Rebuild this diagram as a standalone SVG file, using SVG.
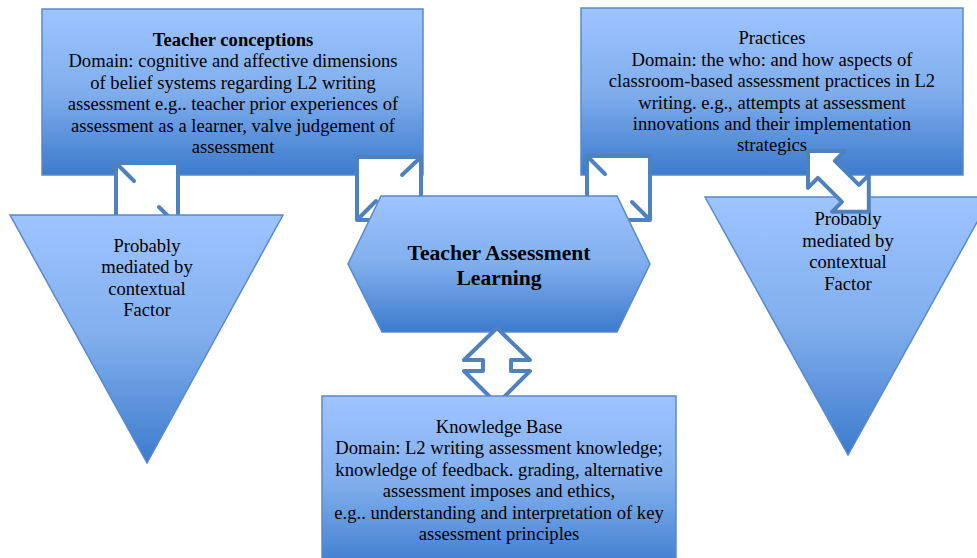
<svg xmlns="http://www.w3.org/2000/svg" width="977" height="558" viewBox="0 0 977 558">
  <defs>
    <linearGradient id="blueFill" x1="0" y1="0" x2="0" y2="1">
      <stop offset="0" stop-color="#9ec4ff"/>
      <stop offset="0.5" stop-color="#80aeed"/>
      <stop offset="1" stop-color="#3c7bcd"/>
    </linearGradient>
  </defs>
  <style>
    .shape { fill: url(#blueFill); stroke: #5a89c8; stroke-width: 1.5; }
    .link { fill: #ffffff; stroke: #4f81bd; stroke-width: 4; stroke-linejoin: round; stroke-linecap: round; }
    .stub { fill: none; stroke: #4f81bd; stroke-width: 4; stroke-linecap: round; }
    text { font-family: "Liberation Serif", "Times New Roman", serif; fill: #000; text-anchor: middle; }
    .body { font-size: 18.6px; }
    .bold { font-weight: bold; }
    .title { font-size: 21.6px; font-weight: bold; }
  </style>

  <rect width="977" height="558" fill="#ffffff"/>

  <!-- Teacher conceptions box -->
  <g id="teacher-conceptions">
    <rect class="shape" x="42" y="9" width="381" height="166"/>
    <text class="body" x="233" y="46"><tspan class="bold">Teacher conceptions</tspan></text>
    <text class="body" x="233" y="67">Domain: cognitive and affective dimensions</text>
    <text class="body" x="233" y="89">of belief systems regarding L2 writing</text>
    <text class="body" x="233" y="110">assessment e.g.. teacher prior experiences of</text>
    <text class="body" x="233" y="132">assessment as a learner, valve judgement of</text>
    <text class="body" x="233" y="153">assessment</text>
  </g>

  <!-- Practices box -->
  <g id="practices">
    <rect class="shape" x="581" y="8" width="382" height="167"/>
    <text class="body" x="772" y="44">Practices</text>
    <text class="body" x="772" y="66">Domain: the who: and how aspects of</text>
    <text class="body" x="772" y="87">classroom-based assessment practices in L2</text>
    <text class="body" x="772" y="109">writing. e.g., attempts at assessment</text>
    <text class="body" x="772" y="130">innovations and their implementation</text>
    <text class="body" x="772" y="151">strategics</text>
  </g>

  <!-- Connectors partly hidden behind the lower shapes -->
  <g id="connectors-back">
    <g id="link-conceptions-left">
      <rect class="link" x="116" y="163" width="62" height="63"/>
      <path class="stub" d="M117,164 l17,17 M177,225 l-18,-18"/>
    </g>
    <g id="link-conceptions-center">
      <rect class="link" x="357" y="157" width="64" height="63"/>
      <path class="stub" d="M420,158 l-18,17 M358,219 l18,-18"/>
    </g>
    <g id="link-practices-center">
      <rect class="link" x="587" y="156" width="63" height="64"/>
      <path class="stub" d="M588,157 l17,17 M649,219 l-17,-17"/>
    </g>
  </g>

  <!-- Left contextual factor triangle -->
  <g id="context-left">
    <polygon class="shape" points="10,215 283,215 147,463"/>
    <text class="body" x="147" y="252">Probably</text>
    <text class="body" x="147" y="273">mediated by</text>
    <text class="body" x="147" y="295">contextual</text>
    <text class="body" x="147" y="316">Factor</text>
  </g>

  <!-- Central hexagon -->
  <g id="teacher-assessment-learning">
    <polygon class="shape" points="381,196 617,196 650,264 617,332 382,332 348,264"/>
    <text class="title" x="499" y="260">Teacher Assessment</text>
    <text class="title" x="499" y="285">Learning</text>
  </g>

  <!-- Right contextual factor triangle -->
  <g id="context-right">
    <polygon class="shape" points="705,197 991,197 848,455"/>
    <text class="body" x="848" y="225">Probably</text>
    <text class="body" x="848" y="247">mediated by</text>
    <text class="body" x="848" y="268">contextual</text>
    <text class="body" x="848" y="290">Factor</text>
  </g>

  <!-- Connectors drawn over the shapes -->
  <g id="connectors-front">
    <path id="link-practices-right" class="link" transform="translate(808,151) rotate(45)"
          d="M0,0 L26,-26 V-12 H60 V-26 L86,0 L60,26 V12 H26 V26 Z"/>
    <path id="link-learning-knowledge" class="link"
          d="M497,328 L464,360 H483 V371 H464 L497,404 L530,371 H511 V360 H530 Z"/>
  </g>

  <!-- Knowledge base box -->
  <g id="knowledge-base">
    <rect class="shape" x="322" y="396" width="354" height="175"/>
    <text class="body" x="499" y="433">Knowledge Base</text>
    <text class="body" x="499" y="454">Domain: L2 writing assessment knowledge;</text>
    <text class="body" x="499" y="476">knowledge of feedback. grading, alternative</text>
    <text class="body" x="499" y="497">assessment imposes and ethics,</text>
    <text class="body" x="499" y="519">e.g.. understanding and interpretation of key</text>
    <text class="body" x="499" y="540">assessment principles</text>
  </g>
</svg>
